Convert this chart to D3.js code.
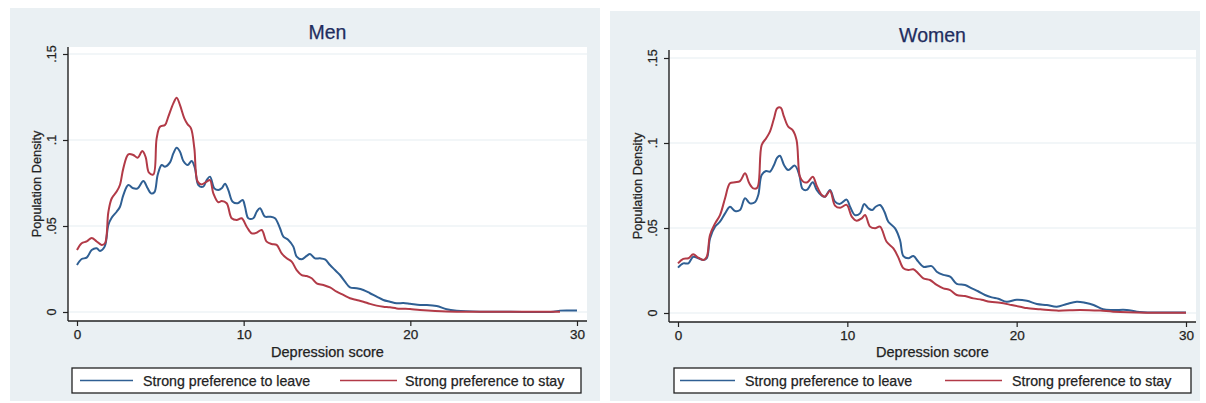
<!DOCTYPE html>
<html>
<head>
<meta charset="utf-8">
<script src="https://cdn.jsdelivr.net/npm/d3@7"></script>
<style>
  html, body { margin: 0; padding: 0; background: #ffffff; }
  svg { display: block; font-family: "Liberation Sans", Arial, sans-serif; }
  text { stroke-width: 0.25px; paint-order: stroke; }
</style>
</head>
<body>
<svg id="chart" width="1206" height="403"></svg>
<script>
// Kernel density of depression score by preference group, [score, density]
const menLeave = [[0,0.0273],[0.28,0.0308],[0.58,0.0316],[0.88,0.036],[1.18,0.037],[1.38,0.0355],[1.66,0.038],[1.88,0.0506],[2.08,0.0548],[2.38,0.0583],[2.58,0.0612],[2.78,0.068],[3.08,0.0738],[3.38,0.0719],[3.64,0.0719],[3.98,0.0762],[4.24,0.0719],[4.44,0.069],[4.64,0.0696],[4.84,0.0797],[5.08,0.0855],[5.28,0.0845],[5.58,0.087],[5.78,0.0922],[5.98,0.0955],[6.18,0.0932],[6.38,0.0878],[6.64,0.0855],[6.88,0.0878],[7.08,0.0835],[7.28,0.0738],[7.58,0.0729],[7.78,0.0767],[7.98,0.0787],[8.24,0.0719],[8.48,0.0709],[8.68,0.0719],[8.88,0.0746],[9.08,0.0709],[9.34,0.0641],[9.64,0.0632],[9.94,0.0651],[10.08,0.0612],[10.28,0.0545],[10.58,0.0545],[10.78,0.0583],[10.98,0.0603],[11.28,0.0554],[11.58,0.0554],[11.88,0.0545],[12.18,0.0487],[12.38,0.0438],[12.68,0.0419],[12.98,0.038],[13.18,0.0322],[13.48,0.0306],[13.78,0.0326],[13.98,0.0337],[14.28,0.0312],[14.58,0.0312],[14.88,0.0306],[15.18,0.0273],[15.48,0.0244],[15.78,0.0215],[16.08,0.0176],[16.38,0.0143],[16.78,0.0138],[17.18,0.0128],[17.58,0.0109],[17.98,0.0089],[18.38,0.007],[18.78,0.006],[19.18,0.0051],[19.58,0.0052],[19.98,0.0048],[20.58,0.0041],[20.98,0.0041],[21.58,0.0035],[22.18,0.0016],[22.78,0.0008],[24.18,0.0002],[26,0.0001],[28.58,0.0002],[28.98,0.0008],[30,0.0008]];

const menStay = [[0,0.036],[0.28,0.040],[0.58,0.041],[0.88,0.043],[1.18,0.041],[1.48,0.039],[1.68,0.040],[1.88,0.058],[2.08,0.066],[2.38,0.070],[2.58,0.074],[2.78,0.0835],[3.08,0.0917],[3.38,0.0913],[3.64,0.0897],[3.92,0.0936],[4.12,0.090],[4.32,0.081],[4.58,0.080],[4.78,0.101],[4.98,0.1077],[5.28,0.1087],[5.48,0.1136],[5.78,0.1213],[5.98,0.1246],[6.18,0.1203],[6.44,0.1126],[6.64,0.1091],[6.84,0.1068],[7.04,0.0952],[7.24,0.0758],[7.48,0.0742],[7.78,0.0758],[7.98,0.0767],[8.18,0.069],[8.48,0.0638],[8.68,0.0645],[8.98,0.0632],[9.28,0.0545],[9.58,0.0535],[9.88,0.0545],[10.18,0.0496],[10.48,0.0457],[10.78,0.0461],[11.08,0.0477],[11.38,0.0409],[11.68,0.0395],[11.98,0.039],[12.28,0.0341],[12.58,0.0312],[12.88,0.0293],[13.18,0.0244],[13.48,0.0215],[13.78,0.0209],[14.08,0.0196],[14.38,0.0167],[14.78,0.0157],[15.18,0.0143],[15.58,0.0118],[15.98,0.0099],[16.38,0.008],[16.78,0.007],[17.18,0.006],[17.58,0.0047],[17.98,0.0037],[18.38,0.0031],[18.78,0.0027],[19.18,0.0021],[19.58,0.0019],[19.98,0.0017],[20.58,0.0012],[22.18,0.0003],[24.18,0.0001],[28.98,0.0001]];

const womenLeave = [[0,0.0267],[0.31,0.0292],[0.61,0.0292],[0.9,0.0331],[1.2,0.0322],[1.5,0.0312],[1.7,0.0322],[1.89,0.0439],[2.19,0.0508],[2.48,0.0537],[2.78,0.0586],[3.07,0.0625],[3.37,0.06],[3.66,0.0606],[3.96,0.0675],[4.25,0.0645],[4.54,0.0651],[4.74,0.0694],[4.94,0.0812],[5.2,0.0835],[5.43,0.0831],[5.67,0.0871],[5.86,0.0914],[6.02,0.0925],[6.26,0.0871],[6.51,0.0841],[6.9,0.0867],[7.16,0.0812],[7.36,0.073],[7.6,0.0724],[7.96,0.0769],[8.19,0.0724],[8.49,0.069],[8.68,0.0684],[8.98,0.0724],[9.27,0.0655],[9.57,0.0642],[9.96,0.0667],[10.16,0.0625],[10.45,0.0576],[10.75,0.0586],[11.0,0.0641],[11.24,0.0616],[11.47,0.0606],[11.67,0.0625],[11.93,0.0635],[12.19,0.0596],[12.42,0.0537],[12.82,0.0498],[13.11,0.0429],[13.31,0.0335],[13.6,0.0322],[13.9,0.0335],[14.19,0.0302],[14.49,0.0272],[14.98,0.0276],[15.28,0.0243],[15.67,0.0224],[16.07,0.0214],[16.46,0.0171],[16.95,0.0165],[17.35,0.0145],[17.72,0.0128],[18.13,0.0106],[18.53,0.0092],[18.92,0.0084],[19.41,0.0066],[20.0,0.0078],[20.6,0.0072],[21.19,0.0053],[21.78,0.0047],[22.37,0.0037],[22.96,0.0053],[23.55,0.0066],[24.04,0.006],[24.54,0.0047],[25.1,0.0022],[25.7,0.0018],[26.5,0.0018],[27.1,0.0008],[28.05,0.0003],[30,0.0003]];

const womenStay = [[0,0.0292],[0.31,0.0318],[0.61,0.0322],[0.9,0.0345],[1.2,0.0325],[1.5,0.0312],[1.7,0.0331],[1.89,0.0459],[2.19,0.0527],[2.48,0.0576],[2.78,0.0675],[3.07,0.0763],[3.37,0.0769],[3.66,0.0776],[3.96,0.0822],[4.21,0.0763],[4.45,0.0733],[4.68,0.0737],[4.94,0.0988],[5.2,0.1027],[5.43,0.1067],[5.67,0.1145],[5.86,0.1204],[6.06,0.1208],[6.26,0.1155],[6.51,0.1096],[6.77,0.1076],[7.0,0.1018],[7.2,0.0802],[7.4,0.0772],[7.64,0.0769],[7.96,0.0802],[8.19,0.0749],[8.49,0.0694],[8.68,0.0684],[8.98,0.0718],[9.27,0.0632],[9.57,0.0619],[9.96,0.0636],[10.26,0.0567],[10.55,0.0543],[10.85,0.0557],[11.05,0.0576],[11.34,0.0508],[11.64,0.0498],[11.93,0.0508],[12.32,0.0419],[12.72,0.038],[13.01,0.0327],[13.31,0.0263],[13.6,0.0253],[13.9,0.0257],[14.19,0.0233],[14.49,0.0204],[14.88,0.0194],[15.28,0.0165],[15.67,0.0145],[16.07,0.0135],[16.46,0.0106],[16.95,0.01],[17.44,0.0086],[17.93,0.0078],[18.43,0.0066],[19.02,0.006],[19.7,0.0047],[20.29,0.0035],[20.6,0.0029],[21.39,0.0022],[22.37,0.0014],[23.75,0.0018],[24.93,0.0014],[25.7,0.0008],[27.66,0.0002],[30,0.0002]];

const xTicks = [0, 10, 20, 30];
const yTicks = [0, 0.05, 0.1, 0.15];
const yTickLabels = ["0", ".05", ".1", ".15"];
const seriesNames = ["Strong preference to leave", "Strong preference to stay"];
const panelTitles = ["Men", "Women"];

const colors = ["#2f5f93", "#b23a47"];
const bg = "#eaf0f3";
const ink = "#222222";

const svg = d3.select("#chart");

const panels = [
  { title: panelTitles[0], series: [menLeave, menStay],
    box: {x0: 10, x1: 600, y0: 8, y1: 401},
    plot: {x0: 68, x1: 587, y0: 47, y1: 321},
    xr: [77, 577], yr: [312, 54],
    titleY: 39, ylabX: 36, ytickX: 51,
    legend: {x0: 72, x1: 581, y0: 368, y1: 393, l1: [80, 133], t1: 143, l2: [340, 397], t2: 405} },
  { title: panelTitles[1], series: [womenLeave, womenStay],
    box: {x0: 610, x1: 1200, y0: 11, y1: 401},
    plot: {x0: 669, x1: 1196, y0: 50, y1: 322},
    xr: [678, 1186], yr: [313, 58],
    titleY: 42, ylabX: 637, ytickX: 652,
    legend: {x0: 674, x1: 1191, y0: 368, y1: 393, l1: [680, 735], t1: 745, l2: [945, 1002], t2: 1012} }
];

panels.forEach(p => {
  const g = svg.append("g");

  // graph region and white plot region
  g.append("rect").attr("x", p.box.x0).attr("y", p.box.y0)
    .attr("width", p.box.x1 - p.box.x0).attr("height", p.box.y1 - p.box.y0)
    .attr("fill", bg);
  g.append("rect").attr("x", p.plot.x0).attr("y", p.plot.y0)
    .attr("width", p.plot.x1 - p.plot.x0).attr("height", p.plot.y1 - p.plot.y0)
    .attr("fill", "#ffffff");

  const x = d3.scaleLinear().domain([0, 30]).range(p.xr);
  const y = d3.scaleLinear().domain([0, 0.15]).range(p.yr);

  // horizontal grid lines
  g.append("g").selectAll("line").data(yTicks).join("line")
    .attr("x1", p.plot.x0).attr("x2", p.plot.x1)
    .attr("y1", d => y(d)).attr("y2", d => y(d))
    .attr("stroke", "#e6eef1").attr("stroke-width", 1.2);

  // density curves
  const line = d3.line().x(d => x(d[0])).y(d => y(d[1])).curve(d3.curveCatmullRom.alpha(0.5));
  p.series.forEach((s, i) => {
    g.append("path").datum(s).attr("d", line)
      .attr("fill", "none").attr("stroke", colors[i])
      .attr("stroke-width", 2).attr("stroke-linejoin", "round");
  });

  // y axis
  const yAxis = d3.axisLeft(y).tickValues(yTicks).tickFormat((d, i) => yTickLabels[i]).tickSize(5).tickPadding(0);
  const ya = g.append("g").attr("transform", `translate(${p.plot.x0},0)`).call(yAxis);
  ya.select(".domain").remove();
  ya.selectAll(".tick line").attr("stroke", ink).attr("stroke-width", 1.2);
  ya.selectAll(".tick text").remove();
  g.append("line").attr("x1", p.plot.x0).attr("x2", p.plot.x0)
    .attr("y1", p.plot.y0).attr("y2", p.plot.y1)
    .attr("stroke", ink).attr("stroke-width", 1.4);
  g.append("g").selectAll("text").data(yTicks).join("text")
    .attr("transform", (d) => `translate(${p.ytickX},${y(d)}) rotate(-90)`)
    .attr("text-anchor", "middle").attr("dy", "0.36em")
    .attr("font-size", 12.5).attr("fill", ink).attr("stroke", ink)
    .text((d, i) => yTickLabels[i]);
  g.append("text")
    .attr("transform", `translate(${p.ylabX},${(p.plot.y0 + p.plot.y1) / 2}) rotate(-90)`)
    .attr("text-anchor", "middle").attr("dy", "0.36em")
    .attr("font-size", 12.8).attr("fill", ink).attr("stroke", ink)
    .text("Population Density");

  // x axis
  const xAxis = d3.axisBottom(x).tickValues(xTicks).tickFormat(d3.format("d")).tickSize(5).tickPadding(3);
  const xa = g.append("g").attr("transform", `translate(0,${p.plot.y1})`).call(xAxis);
  xa.select(".domain").remove();
  xa.selectAll(".tick line").attr("stroke", ink).attr("stroke-width", 1.2);
  xa.selectAll(".tick text").attr("font-size", 13.5).attr("fill", ink).attr("stroke", ink)
    .attr("font-family", "'Liberation Sans', Arial, sans-serif");
  g.append("line").attr("x1", p.plot.x0).attr("x2", p.plot.x1)
    .attr("y1", p.plot.y1).attr("y2", p.plot.y1)
    .attr("stroke", ink).attr("stroke-width", 1.4);
  g.append("text")
    .attr("x", (p.plot.x0 + p.plot.x1) / 2).attr("y", 357)
    .attr("text-anchor", "middle").attr("font-size", 14.5).attr("fill", ink).attr("stroke", ink)
    .text("Depression score");

  // title
  g.append("text")
    .attr("x", (p.plot.x0 + p.plot.x1) / 2).attr("y", p.titleY)
    .attr("text-anchor", "middle").attr("font-size", 19.5).attr("fill", "#1f2d5e").attr("stroke", "#1f2d5e")
    .text(p.title);

  // legend
  const L = p.legend;
  g.append("rect").attr("x", L.x0).attr("y", L.y0)
    .attr("width", L.x1 - L.x0).attr("height", L.y1 - L.y0)
    .attr("fill", "#ffffff").attr("stroke", ink).attr("stroke-width", 1.3);
  const ly = (L.y0 + L.y1) / 2;
  [[L.l1, L.t1], [L.l2, L.t2]].forEach(([seg, tx], i) => {
    g.append("line").attr("x1", seg[0]).attr("x2", seg[1]).attr("y1", ly).attr("y2", ly)
      .attr("stroke", colors[i]).attr("stroke-width", 1.6);
    g.append("text").attr("x", tx).attr("y", ly).attr("dy", "0.36em")
      .attr("font-size", 14.2).attr("fill", ink).attr("stroke", ink).text(seriesNames[i]);
  });
});
</script>
</body>
</html>
